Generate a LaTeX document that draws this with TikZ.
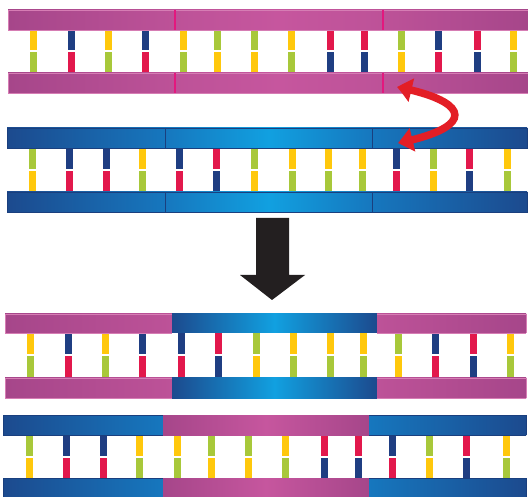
\documentclass[tikz,border=0pt]{standalone}
\usetikzlibrary{arrows.meta,bending}

\definecolor{baseY}{HTML}{FFC80C}
\definecolor{baseG}{HTML}{A8C83A}
\definecolor{baseN}{HTML}{1F3E82}
\definecolor{baseR}{HTML}{E2184C}
\definecolor{pinkDark}{HTML}{A6468A}
\definecolor{pinkLight}{HTML}{C6569E}
\definecolor{pinkMid}{HTML}{BD5298}
\definecolor{pinkEdge}{HTML}{D67DB4}
\definecolor{pinkCut}{HTML}{E3187E}
\definecolor{blueDark}{HTML}{1C4A8E}
\definecolor{blueMid}{HTML}{1677BE}
\definecolor{blueLight}{HTML}{11A0E0}
\definecolor{blueEdge}{HTML}{1A3F7E}
\definecolor{swapRed}{HTML}{E31E26}
\definecolor{bigArrow}{HTML}{231F20}

% one base pair: x, lower edge of upper rail, upper edge of lower rail, colours
\newcommand\bp[5]{%
  \pgfmathsetmacro\ymid{(#2+#3)/2}%
  \fill[#4] (#1-3.5,#2) rectangle (#1+3.5,\ymid-1);
  \fill[#5] (#1+-3.5,\ymid+1) rectangle (#1+3.5,#3);
}

\tikzset{
  pinkrail/.style={draw=pinkEdge,line width=0.5pt},
  bluerail/.style={draw=blueEdge,line width=0.5pt},
  pinkcut/.style={draw=pinkCut,line width=1.3pt},
  bluecut/.style={draw=blueEdge,line width=1pt},
}

\begin{document}
\begin{tikzpicture}[x=1pt,y=-1pt]
\useasboundingbox (0,0) rectangle (528,497);
\fill[white] (0,0) rectangle (528,497);

% ---------- pink duplex ----------
\foreach \x/\t/\b in {33/baseY/baseG,71/baseN/baseR,108/baseY/baseG,145/baseN/baseR,
  183/baseY/baseG,217/baseG/baseY,254/baseG/baseY,291/baseY/baseG,330/baseR/baseN,
  364/baseR/baseN,401/baseG/baseY,438/baseN/baseR,477/baseR/baseN,513/baseY/baseG}
  {\bp{\x}{30}{73}{\t}{\b}}
\foreach \ya/\yb in {10/30,73/93}{
  \shade[left color=pinkDark,right color=pinkMid] (8,\ya) rectangle (175,\yb);
  \shade[left color=pinkMid,right color=pinkMid,middle color=pinkLight] (175,\ya) rectangle (383,\yb);
  \shade[left color=pinkMid,right color=pinkDark] (383,\ya) rectangle (528,\yb);
  \draw[pinkrail] (8,\ya) rectangle (528,\yb);
  \draw[pinkcut] (175,\ya) -- (175,\yb);
  \draw[pinkcut] (383,\ya) -- (383,\yb);
}

% ---------- blue duplex ----------
\foreach \x/\t/\b in {32/baseG/baseY,69/baseN/baseR,106/baseN/baseR,142/baseY/baseG,
  179/baseN/baseR,216/baseR/baseN,254/baseG/baseY,292/baseY/baseG,328/baseY/baseG,
  362/baseY/baseG,396/baseN/baseR,433/baseG/baseY,469/baseR/baseN,507/baseY/baseG}
  {\bp{\x}{148}{192}{\t}{\b}}
\foreach \ya/\yb in {128/148,192/212}{
  \shade[left color=blueDark,right color=blueMid] (7,\ya) rectangle (165,\yb);
  \shade[left color=blueMid,right color=blueMid,middle color=blueLight] (165,\ya) rectangle (372,\yb);
  \shade[left color=blueMid,right color=blueDark] (372,\ya) rectangle (527,\yb);
  \draw[bluerail] (7,\ya) rectangle (527,\yb);
  \draw[bluecut] (165,\ya) -- (165,\yb);
  \draw[bluecut] (372,\ya) -- (372,\yb);
}

% ---------- strand exchange ----------
\coordinate (swapA) at (397,87);
\coordinate (swapB) at (398,143);
\draw[swapRed,line width=7.5pt,
  {Triangle[length=15pt,width=23pt,bend]}-{Triangle[length=15pt,width=23pt,bend]}]
  (swapA) .. controls (474,102) and (474,128) .. (swapB);

% ---------- big arrow ----------
\fill[bigArrow] (256,218) -- (289,218) -- (289,275) -- (305,275) -- (272,300)
  -- (240,275) -- (256,275) -- cycle;

% ---------- recombinant duplex 1 (pink / blue / pink) ----------
\foreach \x/\t/\b in {30/baseY/baseG,68/baseN/baseR,105/baseY/baseG,142/baseN/baseR,
  181/baseN/baseR,218/baseR/baseN,256/baseG/baseY,293/baseY/baseG,330/baseY/baseG,
  363/baseY/baseG,398/baseG/baseY,435/baseN/baseR,473/baseR/baseN,510/baseY/baseG}
  {\bp{\x}{333}{378}{\t}{\b}}
\foreach \ya/\yb in {314/333,378/398}{
  \shade[left color=pinkDark,right color=pinkMid] (5,\ya) rectangle (172,\yb);
  \shade[left color=blueDark,right color=blueDark,middle color=blueLight] (172,\ya) rectangle (377,\yb);
  \shade[left color=pinkMid,right color=pinkDark] (377,\ya) rectangle (526,\yb);
  \draw[pinkrail] (5,\ya) -- (172,\ya) (5,\yb) -- (172,\yb) (5,\ya) -- (5,\yb);
  \draw[pinkrail] (377,\ya) -- (526,\ya) (377,\yb) -- (526,\yb) (526,\ya) -- (526,\yb);
}

% ---------- recombinant duplex 2 (blue / pink / blue) ----------
\foreach \x/\t/\b in {29/baseG/baseY,66/baseN/baseR,103/baseN/baseR,139/baseY/baseG,
  177/baseY/baseG,211/baseG/baseY,248/baseG/baseY,285/baseY/baseG,324/baseR/baseN,
  358/baseR/baseN,392/baseN/baseR,429/baseG/baseY,466/baseR/baseN,506/baseY/baseG}
  {\bp{\x}{435}{478}{\t}{\b}}
\foreach \ya/\yb in {415/435,478/497}{
  \shade[left color=blueDark,right color=blueMid] (3,\ya) rectangle (163,\yb);
  \shade[left color=pinkDark,right color=pinkDark,middle color=pinkLight] (163,\ya) rectangle (369,\yb);
  \shade[left color=blueMid,right color=blueDark] (369,\ya) rectangle (526,\yb);
  \draw[bluerail] (3,\ya) -- (163,\ya) (3,\yb) -- (163,\yb) (3,\ya) -- (3,\yb);
  \draw[bluerail] (369,\ya) -- (526,\ya) (369,\yb) -- (526,\yb) (526,\ya) -- (526,\yb);
}
\end{tikzpicture}
\end{document}
